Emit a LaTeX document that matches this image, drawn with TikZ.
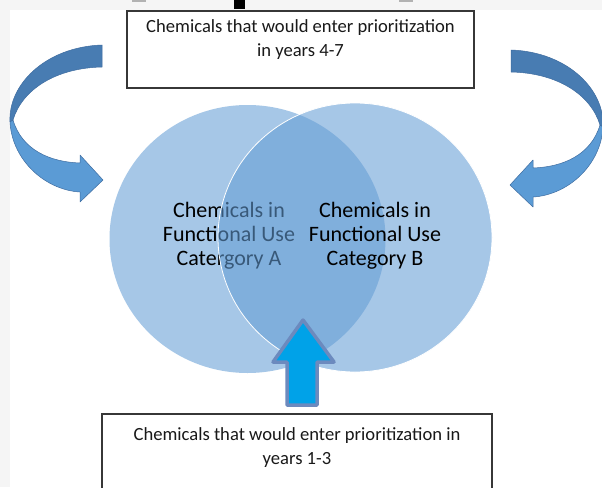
\documentclass[tikz,border=0pt]{standalone}
\usepackage{fontspec}
\setmainfont{Carlito}
\definecolor{bgray}{RGB}{245,245,245}
\definecolor{circA}{RGB}{166,199,231}
\definecolor{circB}{RGB}{100,157,213}
\definecolor{arrDark}{RGB}{72,124,178}
\definecolor{arrLight}{RGB}{91,155,213}
\definecolor{arrEdge}{RGB}{62,108,160}
\definecolor{upFill}{RGB}{0,162,232}
\definecolor{upEdge}{RGB}{108,138,190}
\definecolor{boxEdge}{RGB}{55,55,55}
\tikzset{
  textbox/.style={draw=boxEdge, line width=1.1pt, fill=white, rectangle, inner sep=0pt},
  boxtext/.style={align=center, font=\fontsize{18.6}{24}\selectfont, inner sep=0pt, text=black!90},
  circtext/.style={align=center, font=\fontsize{22}{24}\selectfont, inner sep=0pt, text=black},
  darkband/.style={fill=arrDark, draw=arrEdge, line width=0.5pt, line join=round},
  lightband/.style={fill=arrLight, draw=arrEdge, line width=0.5pt, line join=round},
  uparrow/.style={fill=upFill, draw=upEdge, line width=3.5pt, line join=round}
}
\begin{document}
\begin{tikzpicture}[x=1pt,y=-1pt]
\useasboundingbox (0,0) rectangle (602,487);
\clip (0,0) rectangle (602,487);
% background
\fill[bgray] (0,0) rectangle (602,487);
\fill[white] (10,10) rectangle (602,487);
% cut-off title fragments
\fill[black] (234,0) rectangle (245,9);
\fill[gray!60] (132,0) rectangle (146,2);
\fill[gray!60] (399,0) rectangle (413,2);
% Venn circles
\fill[circA] (247.5,239) ellipse [x radius=138, y radius=134];
\node[circtext] (textA) at (229,236) {Chemicals in\\Functional Use\\Catergory A};
\fill[circB, opacity=0.57] (355,237.5) ellipse [x radius=137, y radius=134.5];
\draw[white, line width=0.8pt] (355,237.5) ellipse [x radius=137, y radius=134.5];
\node[circtext] (textB) at (375,236) {Chemicals in\\Functional Use\\Category B};
% up arrow
\draw[uparrow] (287,405) -- (287,362) -- (273,362) -- (303,320) -- (334,362) -- (317,362) -- (317,405) -- cycle;
% boxes
\node[textbox, minimum width=347pt, minimum height=77pt] (topbox) at (300.5,49.5) {};
\node[boxtext] (toptext) at (300.5,40) {Chemicals that would enter prioritization\\in years 4-7};
\node[textbox, minimum width=390pt, minimum height=100pt] (botbox) at (297,464) {};
\node[boxtext] (bottext) at (297,448) {Chemicals that would enter prioritization in\\years 1-3};
% left curved arrow
\draw[darkband] (102,45) .. controls (45,47) and (8,85) .. (10,122) -- (13,120) .. controls (22,90) and (55,68) .. (102,67) -- cycle;
\draw[lightband] (10,122) .. controls (12,160) and (45,190) .. (80,192) -- (80,202) -- (103,180) -- (80,155) -- (80,163) .. controls (50,162) and (22,150) .. (13,120) -- cycle;
% right curved arrow (mirror)
\begin{scope}[xshift=613pt, yshift=-5pt, xscale=-1]
\draw[darkband] (102,45) .. controls (45,47) and (8,85) .. (10,122) -- (13,120) .. controls (22,90) and (55,68) .. (102,67) -- cycle;
\draw[lightband] (10,122) .. controls (12,160) and (45,190) .. (80,192) -- (80,202) -- (103,180) -- (80,155) -- (80,163) .. controls (50,162) and (22,150) .. (13,120) -- cycle;
\end{scope}
\end{tikzpicture}
\end{document}
